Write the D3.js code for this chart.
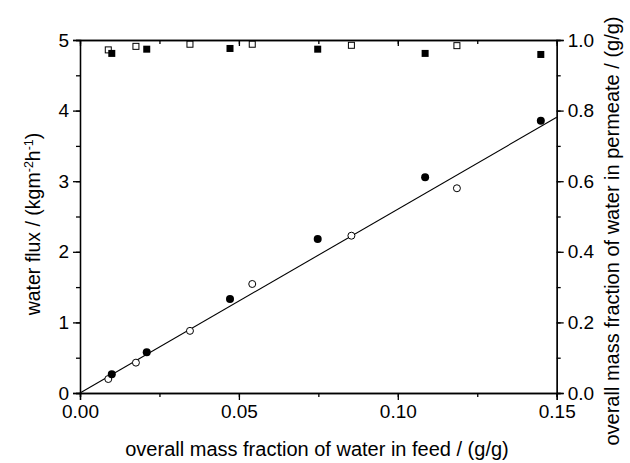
<!DOCTYPE html>
<html><head><meta charset="utf-8">
<script src="https://cdn.jsdelivr.net/npm/d3@7"></script>
<style>body{margin:0;background:#fff}svg{display:block}text{font-family:"Liberation Sans",Arial,sans-serif;fill:#000}</style>
</head><body>
<script>
// Data
const fluxFilledX = [0.0100, 0.0210, 0.0472, 0.0748, 0.1086, 0.1450];
const fluxFilledY = [0.265, 0.576, 1.33, 2.18, 3.055, 3.857];
const fluxOpenX = [0.0089, 0.0176, 0.0346, 0.0542, 0.0854, 0.1186];
const fluxOpenY = [0.198, 0.43, 0.88, 1.544, 2.228, 2.90];
const permFilledX = [0.0100, 0.0210, 0.0472, 0.0748, 0.1086, 0.1450];
const permFilledY = [0.962, 0.974, 0.976, 0.974, 0.962, 0.959];
const permOpenX = [0.0089, 0.0176, 0.0346, 0.0542, 0.0854, 0.1186];
const permOpenY = [0.972, 0.982, 0.988, 0.988, 0.985, 0.984];
const fitX = [0, 0.15];
const fitY = [0, 3.905];
const xTicks = [0, 0.05, 0.10, 0.15];
const yLeftTicks = [0, 1, 2, 3, 4, 5];
const yRightTicks = [0, 0.2, 0.4, 0.6, 0.8, 1.0];

const W = 630, H = 463;
const L = 80, R = 556.7, T = 40, B = 393;
const svg = d3.select("body").append("svg").attr("width", W).attr("height", H);
const x = d3.scaleLinear().domain([0, 0.15]).range([L, R]);
const yL = d3.scaleLinear().domain([0, 5]).range([B, T]);
const yR = d3.scaleLinear().domain([0, 1]).range([B, T]);

const fs = "19px";
const xMinor = d3.range(0, 0.1501, 0.025);
const yLMinor = d3.range(0, 5.01, 0.5);
const yRMinor = d3.range(0, 1.001, 0.1);

function styleAxis(g){
  g.select(".domain").attr("stroke","#000").attr("stroke-width",1.3);
  g.selectAll(".tick line").attr("stroke","#000").attr("stroke-width",1.3);
  g.selectAll(".tick text").style("font-size", fs);
}
// bottom
const gB = svg.append("g").attr("transform",`translate(0,${B})`)
  .call(d3.axisBottom(x).tickValues(xMinor).tickSize(4).tickFormat(""));
styleAxis(gB);
const gB2 = svg.append("g").attr("transform",`translate(0,${B})`)
  .call(d3.axisBottom(x).tickValues(xTicks).tickSize(7).tickPadding(5).tickFormat(d3.format(".2f")));
styleAxis(gB2);
// top
const gT = svg.append("g").attr("transform",`translate(0,${T})`)
  .call(d3.axisBottom(x).tickValues(xMinor).tickSizeInner(4).tickSizeOuter(0).tickFormat(""));
styleAxis(gT);
const gT2 = svg.append("g").attr("transform",`translate(0,${T})`)
  .call(d3.axisBottom(x).tickValues(xTicks).tickSizeInner(6).tickSizeOuter(0).tickFormat(""));
styleAxis(gT2);
// left
const gLm = svg.append("g").attr("transform",`translate(${L},0)`)
  .call(d3.axisLeft(yL).tickValues(yLMinor).tickSize(4).tickFormat(""));
styleAxis(gLm);
const gL = svg.append("g").attr("transform",`translate(${L},0)`)
  .call(d3.axisLeft(yL).tickValues(yLeftTicks).tickSize(7).tickPadding(4).tickFormat(d3.format("d")));
styleAxis(gL);
// right
const gRm = svg.append("g").attr("transform",`translate(${R},0)`)
  .call(d3.axisRight(yR).tickValues(yRMinor).tickSize(4).tickFormat(""));
styleAxis(gRm);
const gR = svg.append("g").attr("transform",`translate(${R},0)`)
  .call(d3.axisRight(yR).tickValues(yRightTicks).tickSize(7).tickPadding(4).tickFormat(d3.format(".1f")));
styleAxis(gR);

// fit line
svg.append("path").datum(fitX.map((v,i)=>[v,fitY[i]]))
  .attr("d", d3.line().x(d=>x(d[0])).y(d=>yL(d[1])))
  .attr("fill","none").attr("stroke","#000").attr("stroke-width",1.1);

// markers
const sq = 7;
svg.append("g").selectAll("rect").data(permOpenX.map((v,i)=>[v,permOpenY[i]])).join("rect")
  .attr("x",d=>x(d[0])-sq/2+0.5).attr("y",d=>yR(d[1])-sq/2+0.5).attr("width",sq-1).attr("height",sq-1)
  .attr("fill","#fff").attr("stroke","#000").attr("stroke-width",1);
svg.append("g").selectAll("rect").data(permFilledX.map((v,i)=>[v,permFilledY[i]])).join("rect")
  .attr("x",d=>x(d[0])-sq/2).attr("y",d=>yR(d[1])-sq/2).attr("width",sq).attr("height",sq)
  .attr("fill","#000");
svg.append("g").selectAll("circle").data(fluxOpenX.map((v,i)=>[v,fluxOpenY[i]])).join("circle")
  .attr("cx",d=>x(d[0])).attr("cy",d=>yL(d[1])).attr("r",3.5)
  .attr("fill","#fff").attr("stroke","#000").attr("stroke-width",1);
svg.append("g").selectAll("circle").data(fluxFilledX.map((v,i)=>[v,fluxFilledY[i]])).join("circle")
  .attr("cx",d=>x(d[0])).attr("cy",d=>yL(d[1])).attr("r",4)
  .attr("fill","#000");

// titles
svg.append("text").attr("x",317).attr("y",456).attr("text-anchor","middle")
  .style("font-size","20px").text("overall mass fraction of water in feed / (g/g)");
const lt = svg.append("text").attr("transform",`translate(40,224) rotate(-90)`)
  .attr("text-anchor","middle").style("font-size","19.5px");
lt.append("tspan").text("water flux / (kgm");
lt.append("tspan").attr("dy",-7).style("font-size","12.5px").text("-2");
lt.append("tspan").attr("dy",7).text("h");
lt.append("tspan").attr("dy",-7).style("font-size","12.5px").text("-1");
lt.append("tspan").attr("dy",7).text(")");
svg.append("text").attr("transform",`translate(619,231) rotate(-90)`)
  .attr("text-anchor","middle").style("font-size","20px")
  .text("overall mass fraction of water in permeate / (g/g)");
</script>
</body></html>
